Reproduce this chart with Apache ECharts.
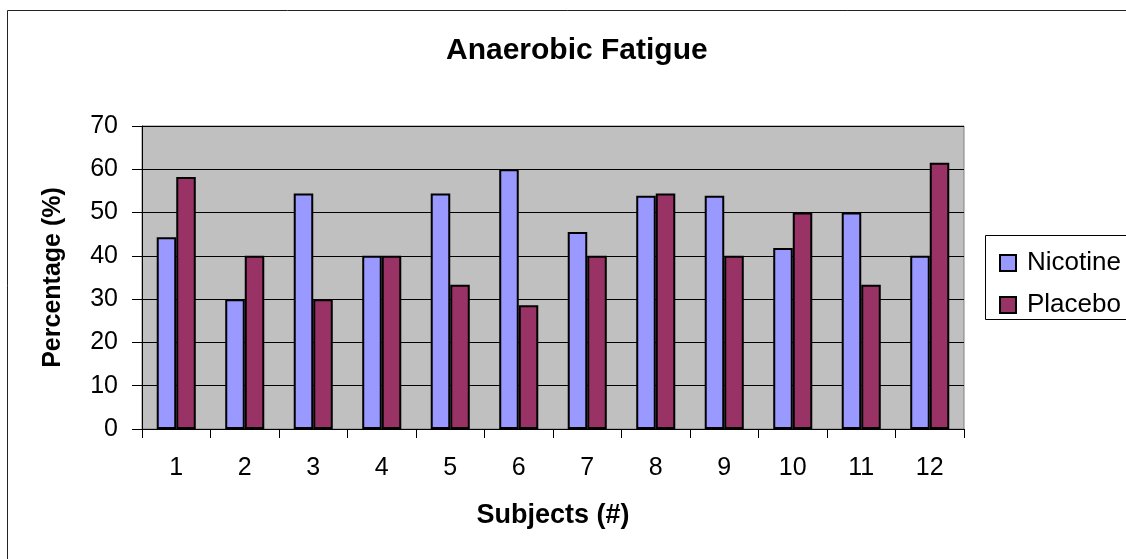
<!DOCTYPE html>
<html>
<head>
<meta charset="utf-8">
<title>Anaerobic Fatigue</title>
<script src="https://cdn.jsdelivr.net/npm/echarts@6/dist/echarts.min.js"></script>
<style>
    html,body{margin:0;padding:0;background:#fff;}
    #chart{width:1126px;height:559px;}
</style>
</head>
<body>
<div id="chart"></div>
<script>
const subjects = ["1","2","3","4","5","6","7","8","9","10","11","12"]
const nicotine = [44.3,30,54.4,40,54.4,60,45.5,53.9,53.9,41.8,50,40]
const placebo = [58.2,40,30,40,33.3,28.6,40,54.4,40,50,33.3,61.5]
const yTicks = {min:0,max:70,interval:10}

const font = "Liberation Sans, Arial, sans-serif"

const chartDom = document.getElementById("chart")
const myChart = echarts.init(chartDom)

const option = {
    animation:false,
    backgroundColor:"#fff",
    title:{
        text:"Anaerobic Fatigue",
        left:441,
        top:31,
        textStyle:{fontFamily:font,fontSize:30,fontWeight:"bold",color:"#000"}
    },
    grid:{
        left:142,
        right:162,
        top:126,
        bottom:130,
        show:true,
        backgroundColor:"#C0C0C0",
        borderColor:"#808080",
        borderWidth:1
    },
    legend:{
        orient:"vertical",
        left:994,
        top:245,
        itemWidth:16,
        itemHeight:16,
        itemGap:16,
        icon:"rect",
        textStyle:{fontFamily:font,fontSize:26,color:"#000",padding:[0,0,0,6]}
    },
    xAxis:{
        type:"category",
        data:subjects,
        name:"Subjects (#)",
        nameLocation:"middle",
        nameGap:73,
        nameTextStyle:{fontFamily:font,fontSize:27,fontWeight:"bold",color:"#000"},
        axisLine:{lineStyle:{color:"#000",width:1}},
        axisTick:{show:true,interval:0,alignWithLabel:false,length:9,lineStyle:{color:"#000"}},
        axisLabel:{fontFamily:font,fontSize:25,color:"#000",margin:27}
    },
    yAxis:{
        type:"value",
        min:yTicks.min,
        max:yTicks.max,
        interval:yTicks.interval,
        name:"Percentage (%)",
        nameLocation:"middle",
        nameRotate:90,
        nameGap:76,
        nameTextStyle:{fontFamily:font,fontSize:25,fontWeight:"bold",color:"#000"},
        axisLine:{show:true,lineStyle:{color:"#000",width:1}},
        axisTick:{show:true,length:10,lineStyle:{color:"#000"}},
        axisLabel:{fontFamily:font,fontSize:25,color:"#000",margin:24},
        splitLine:{lineStyle:{color:"#000",width:1}}
    },
    series:[
        {
            name:"Nicotine",
            type:"bar",
            data:nicotine,
            barGap:"0%",
            barCategoryGap:"43%",
            itemStyle:{color:"#9999FF",borderColor:"#000",borderWidth:2}
        },
        {
            name:"Placebo",
            type:"bar",
            data:placebo,
            itemStyle:{color:"#993366",borderColor:"#000",borderWidth:2}
        }
    ],
    graphic:[
        // outer chart border, runs off the right and bottom edges
        {type:"rect",shape:{x:7.5,y:10.5,width:1300,height:700},style:{fill:null,stroke:"#222",lineWidth:1},silent:true},
        // legend box
        {type:"rect",shape:{x:985.5,y:235.5,width:300,height:84},style:{fill:"#fff",stroke:"#000",lineWidth:1},silent:true,z:-1}
    ]
}

myChart.setOption(option)
</script>
</body>
</html>
